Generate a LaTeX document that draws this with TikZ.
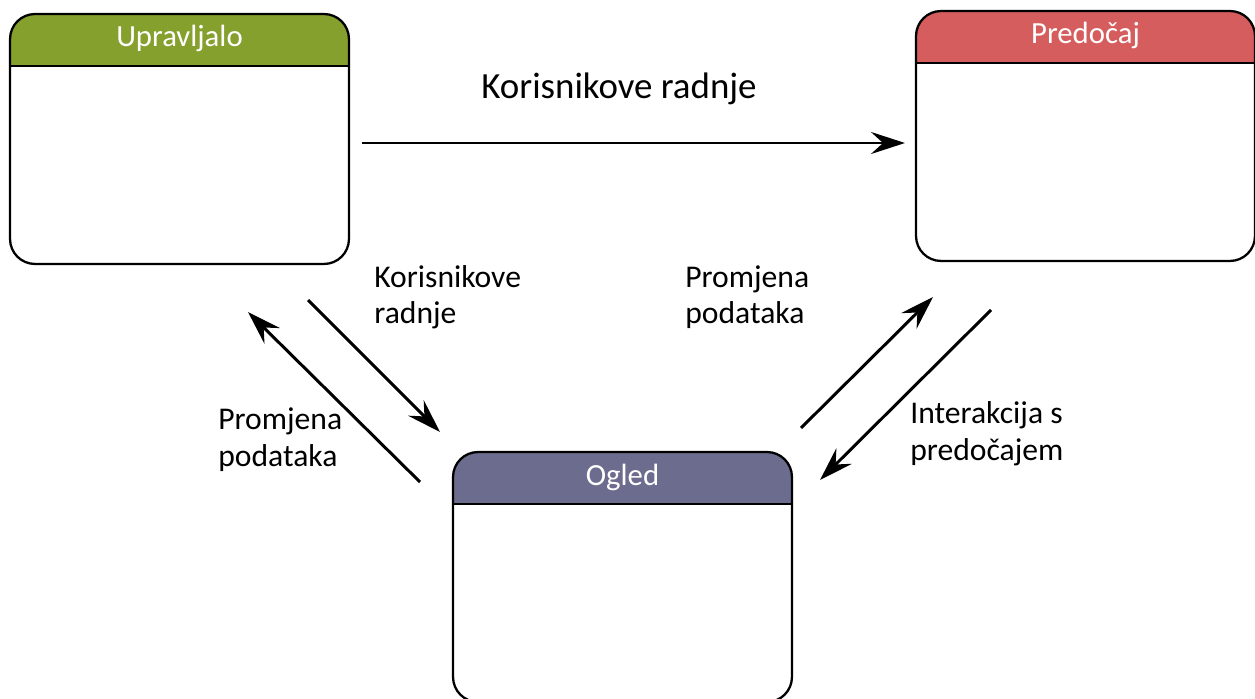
\documentclass[tikz,border=0pt]{standalone}
\usepackage{fontspec}
\setmainfont{Carlito}
\usepackage{tikz}
\usetikzlibrary{arrows.meta}
\definecolor{uprgreen}{RGB}{134,160,46}
\definecolor{prered}{RGB}{214,93,93}
\definecolor{oglpurple}{RGB}{108,108,142}

\begin{document}
\begin{tikzpicture}[x=0.02cm, y=-0.02cm,
  panel/.style={draw, line width=1.3pt, rounded corners=0.5cm, minimum width=6.78cm, minimum height=5cm, inner sep=0pt,
    path picture={\fill[#1, sharp corners] (path picture bounding box.north west) rectangle ([yshift=-1.04cm]path picture bounding box.north east);
      \draw[line width=1.3pt, sharp corners] ([yshift=-1.04cm]path picture bounding box.north west) -- ([yshift=-1.04cm]path picture bounding box.north east);}},
  headtext/.style={text=white, inner sep=0pt, anchor=base, font=\fontsize{17.5}{20}\selectfont},
  lbl/.style={align=left, anchor=base west, inner sep=0pt, font=\fontsize{18}{21}\selectfont},
  flow/.style={line width=1.7pt, -{Stealth[length=0.68cm, width=0.44cm, inset=0.24cm]}}]

\useasboundingbox (0,0) rectangle (1255,699);

% Boxes
\node[panel=uprgreen] (upr) at (179.5,139) {};
\node[headtext] (uprt) at ([yshift=-0.67cm]upr.north) {Upravljalo};
\node[panel=prered] (pre) at (1085.5,136) {};
\node[headtext] (pret) at ([yshift=-0.67cm]pre.north) {Predočaj};
\node[panel=oglpurple] (ogl) at (622.5,577) {};
\node[headtext] (oglt) at ([yshift=-0.69cm]ogl.north) {Ogled};

% Arrow ends
\coordinate (k1) at (362,143);
\coordinate (k2) at (905,143);
\coordinate (d1) at (308,300);
\coordinate (d2) at (440,432);
\coordinate (u1) at (420,482);
\coordinate (u2) at (248,312);
\coordinate (r1) at (801,428);
\coordinate (r2) at (933,297);
\coordinate (l1) at (991,310);
\coordinate (l2) at (820,480);

% Arrows
\draw[flow] (k1) -- (k2);
\draw[flow] (d1) -- (d2);
\draw[flow] (u1) -- (u2);
\draw[flow] (r1) -- (r2);
\draw[flow] (l1) -- (l2);

% Labels (base = last line)
\node[inner sep=0pt, anchor=base, font=\fontsize{21}{25}\selectfont] (top) at (619,99) {Korisnikove radnje};
\node[lbl] (kor) at (374,324) {Korisnikove\\radnje};
\node[lbl] (prl) at (218,466) {Promjena\\podataka};
\node[lbl] (prr) at (685,324) {Promjena\\podataka};
\node[lbl] (int) at (910,460) {Interakcija s\\predočajem};

\end{tikzpicture}
\end{document}
